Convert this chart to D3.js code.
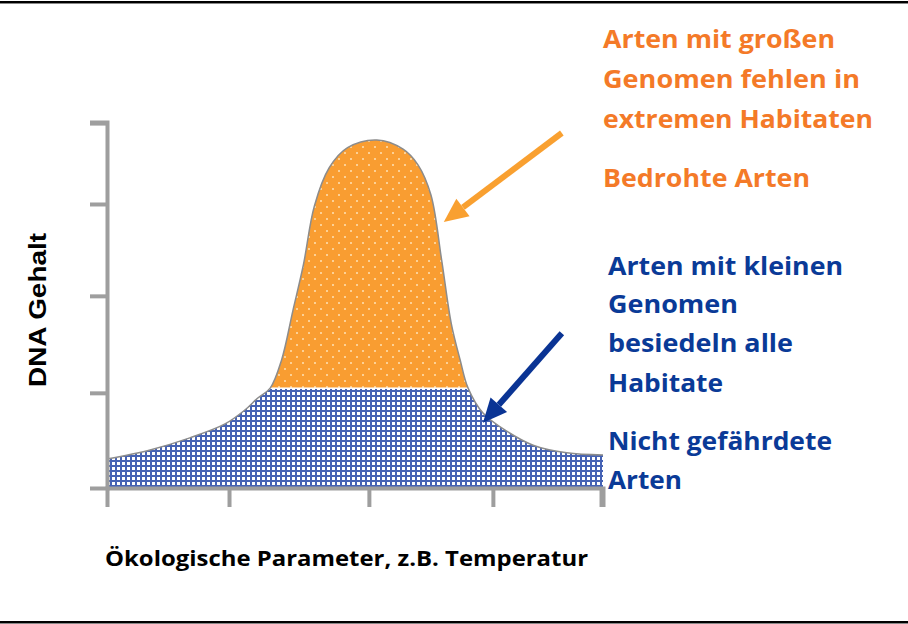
<!DOCTYPE html>
<meta charset="utf-8">
<style>
  body { margin: 0; background: #fff; }
  .axis path, .axis line { stroke: #9e9e9e; stroke-width: 4px; }
  .note { font-family: "Open Sans", Lato, sans-serif; font-weight: bold; font-size: 25px; }
</style>
<body>
<script src="https://d3js.org/d3.v7.min.js"></script>
<script>

// DNA content along an ecological gradient (both in % of axis)
var paramX = [0, 8.7, 16.7, 23.8, 27.8, 30.4, 32.9, 35.2, 37.5, 39.6, 41.8, 44.8, 48.5, 54.4,
              59.7, 62.7, 65.3, 67.5, 69.4, 71.2, 72.8, 75.8, 80.5, 85.9, 92.7, 100];
var dnaY   = [7.9, 10.4, 13.7, 17.5, 21.3, 24.6, 27.3, 35.0, 48.6, 61.0, 77.0, 87.5, 93.0, 95.1,
              92.6, 88.3, 80.1, 62.0, 45.0, 35.0, 27.3, 20.5, 15.6, 11.7, 9.6, 9.0];
var threshold = 27.2;   // above: large genomes, below: small genomes

var xTicks = [24.6, 52.8, 77.8, 99.6];
var yTicks = [26.0, 52.5, 77.6, 99.7];

var orangeLines = ["Arten mit großen", "Genomen fehlen in", "extremen Habitaten", "Bedrohte Arten"];
var blueLines = ["Arten mit kleinen", "Genomen", "besiedeln alle", "Habitate", "Nicht gefährdete", "Arten"];
var xLabel = "Ökologische Parameter, z.B. Temperatur";
var yLabel = "DNA Gehalt";

// arrows: [startX, startY, tipX, tipY] in data units
var arrowOrange = [91.7, 97.0, 67.9, 72.7];
var arrowBlue   = [91.7, 42.3, 75.8, 17.8];

var W = 908, H = 624;
var orange = "#f99d31", orangeText = "#f47a28", blue = "#0a3a97";

var x = d3.scaleLinear().domain([0, 100]).range([107, 603]);
var y = d3.scaleLinear().domain([0, 100]).range([488, 122]);

var svg = d3.select("body").append("svg")
    .attr("width", W)
    .attr("height", H);

// frame lines top / bottom
svg.append("rect").attr("x", 0).attr("y", 1).attr("width", W).attr("height", 2).attr("fill", "#000");
svg.append("rect").attr("x", 0).attr("y", 3).attr("width", W).attr("height", 1).attr("fill", "#888");
svg.append("rect").attr("x", 0).attr("y", 621).attr("width", W).attr("height", 2).attr("fill", "#000");
svg.append("rect").attr("x", 0).attr("y", 623).attr("width", W).attr("height", 1).attr("fill", "#888");

var defs = svg.append("defs");

// blue checked pattern
var pb = defs.append("pattern").attr("id", "grid")
    .attr("patternUnits", "userSpaceOnUse").attr("width", 5).attr("height", 5);
pb.append("rect").attr("width", 5).attr("height", 5).attr("fill", "#fff");
pb.append("rect").attr("x", 0).attr("y", 0).attr("width", 2).attr("height", 5).attr("fill", "#4562b4");
pb.append("rect").attr("x", 0).attr("y", 0).attr("width", 5).attr("height", 2).attr("fill", "#4562b4");

// orange dotted pattern
var po = defs.append("pattern").attr("id", "dots")
    .attr("patternUnits", "userSpaceOnUse").attr("width", 12).attr("height", 12);
po.append("rect").attr("width", 12).attr("height", 12).attr("fill", orange);
po.append("circle").attr("cx", 3).attr("cy", 3).attr("r", 1).attr("fill", "#fde1b5");
po.append("circle").attr("cx", 9).attr("cy", 9).attr("r", 1).attr("fill", "#fde1b5");

var pts = paramX.map(function(d, i) { return [d, dnaY[i]]; });

var area = d3.area()
    .x(function(d) { return x(d[0]); })
    .y0(y(0))
    .y1(function(d) { return y(d[1]); })
    .curve(d3.curveCatmullRom.alpha(0.5));

var line = d3.line()
    .x(function(d) { return x(d[0]); })
    .y(function(d) { return y(d[1]); })
    .curve(d3.curveCatmullRom.alpha(0.5));

defs.append("clipPath").attr("id", "under")
  .append("path").attr("d", area(pts));

var g = svg.append("g").attr("clip-path", "url(#under)");
g.append("rect")
    .attr("x", x(0)).attr("width", x(100) - x(0))
    .attr("y", y(100)).attr("height", y(threshold) - y(100) - 1)
    .attr("fill", "url(#dots)");
g.append("rect")
    .attr("x", x(0)).attr("width", x(100) - x(0))
    .attr("y", y(threshold) + 0.5).attr("height", y(0) - y(threshold))
    .attr("fill", "url(#grid)");

svg.append("path")
    .attr("d", line(pts))
    .attr("fill", "none")
    .attr("stroke", "#8c8c8c")
    .attr("stroke-width", 1.5);

// axes
svg.append("g")
    .attr("class", "axis")
    .attr("transform", "translate(0," + y(0) + ")")
    .call(d3.axisBottom(x).tickValues(xTicks).tickFormat("").tickSizeOuter(0).tickSize(19));

svg.append("g")
    .attr("class", "axis")
    .attr("transform", "translate(" + x(0) + ",0)")
    .call(d3.axisLeft(y).tickValues(yTicks).tickFormat("").tickSizeOuter(0).tickSize(17));

// arrows
function arrow(a, color) {
  var x1 = x(a[0]), y1 = y(a[1]), x2 = x(a[2]), y2 = y(a[3]);
  var ang = Math.atan2(y2 - y1, x2 - x1);
  var head = 24, half = 11;
  var bx = x2 - head * Math.cos(ang), by = y2 - head * Math.sin(ang);
  svg.append("line")
      .attr("x1", x1).attr("y1", y1).attr("x2", bx).attr("y2", by)
      .attr("stroke", color).attr("stroke-width", 6);
  var px = -Math.sin(ang) * half, py = Math.cos(ang) * half;
  svg.append("path")
      .attr("d", "M" + x2 + "," + y2 + "L" + (bx + px) + "," + (by + py) + "L" + (bx - px) + "," + (by - py) + "Z")
      .attr("fill", color);
}
arrow(arrowOrange, "#f9a030");
arrow(arrowBlue, "#0a3494");

// annotation text
var orangeBase = [48, 88, 128, 187], orangeLen = [232, 257, 270, 207];
svg.selectAll(".orange").data(orangeLines).enter().append("text")
    .attr("class", "note")
    .attr("x", 603)
    .attr("y", function(d, i) { return orangeBase[i]; })
    .attr("textLength", function(d, i) { return orangeLen[i]; })
    .attr("lengthAdjust", "spacingAndGlyphs")
    .attr("fill", orangeText)
    .text(function(d) { return d; });

var blueBase = [275, 313, 352, 392, 450, 489], blueLen = [235, 130, 185, 115, 224, 74];
svg.selectAll(".blue").data(blueLines).enter().append("text")
    .attr("class", "note")
    .attr("x", 608)
    .attr("y", function(d, i) { return blueBase[i]; })
    .attr("textLength", function(d, i) { return blueLen[i]; })
    .attr("lengthAdjust", "spacingAndGlyphs")
    .attr("fill", blue)
    .text(function(d) { return d; });

svg.append("text")
    .attr("x", 105).attr("y", 566)
    .attr("textLength", 483).attr("lengthAdjust", "spacingAndGlyphs")
    .style("font-family", "'Open Sans', sans-serif").style("font-weight", "bold").style("font-size", "21px")
    .text(xLabel);

svg.append("text")
    .attr("transform", "translate(46,387) rotate(-90)")
    .attr("textLength", 154).attr("lengthAdjust", "spacingAndGlyphs")
    .style("font-family", "'Liberation Sans', Arial, sans-serif").style("font-weight", "bold").style("font-size", "23px")
    .text(yLabel);

</script>
</body>
